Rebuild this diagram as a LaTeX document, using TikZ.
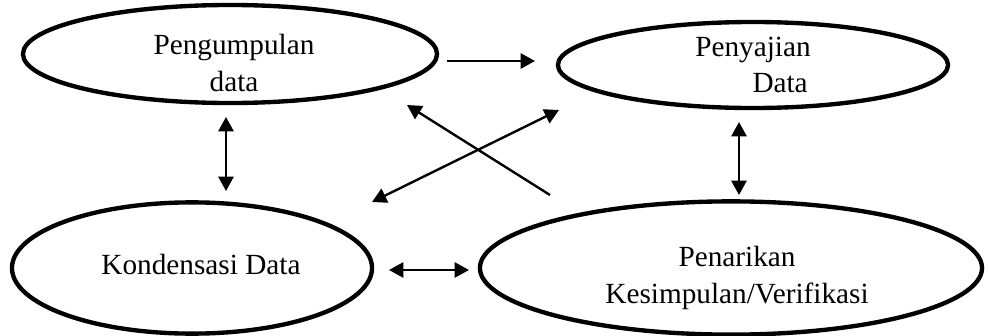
\documentclass[tikz,border=0pt]{standalone}
\usepackage{fontspec}
\setmainfont{Liberation Serif}
\usetikzlibrary{arrows.meta,shapes.geometric}

\begin{document}
\begin{tikzpicture}[x=0.025cm,y=-0.025cm,
  oval/.style={draw,ellipse,line width=3.1pt,inner sep=0pt},
  lbl/.style={font=\fontsize{20.8}{26}\selectfont,align=center,inner sep=0pt},
  tip/.style={-{Triangle[length=0.36cm,width=0.38cm]}},
  arr/.style={line width=1.7pt,tip},
  darr/.style={line width=1.7pt,{Triangle[length=0.36cm,width=0.38cm]}-{Triangle[length=0.36cm,width=0.38cm]}}]
\useasboundingbox (0,0) rectangle (989,336);

% ovals
\node[oval,minimum width=10.35cm,minimum height=2.45cm] (kumpul) at (230,54) {};
\node[oval,minimum width=9.75cm,minimum height=2.15cm] (saji) at (753,65) {};
\node[oval,minimum width=9cm,minimum height=3.28cm] (kondensasi) at (192,268) {};
\node[oval,minimum width=12.55cm,minimum height=3.33cm] (tarik) at (731,268) {};

% texts
\node[lbl] (kumpultxt) at (234,63) {Pengumpulan\\data};
\node[lbl,align=left,anchor=west] (sajitxt) at (695,65) {Penyajian\\\hspace*{1.43cm}Data};
\node[lbl] (kondtxt) at (201,264) {Kondensasi Data};
\node[lbl] (tariktxt) at (737,278) {Penarikan\\Kesimpulan/Verifikasi};

% arrow ends
\coordinate (a1) at (447,61);
\coordinate (a2) at (535,61);
\coordinate (b1) at (226,117);
\coordinate (b2) at (226,191);
\coordinate (c1) at (739,122);
\coordinate (c2) at (739,195);
\coordinate (d1) at (389,270);
\coordinate (d2) at (469,270);
\coordinate (e1) at (550,195);
\coordinate (e2) at (407,105);
\coordinate (f1) at (372,202);
\coordinate (f2) at (559,110);

\draw[arr] (a1) -- (a2);
\draw[darr] (b1) -- (b2);
\draw[darr] (c1) -- (c2);
\draw[darr] (d1) -- (d2);
\draw[arr] (e1) -- (e2);
\draw[darr] (f1) -- (f2);
\end{tikzpicture}
\end{document}
